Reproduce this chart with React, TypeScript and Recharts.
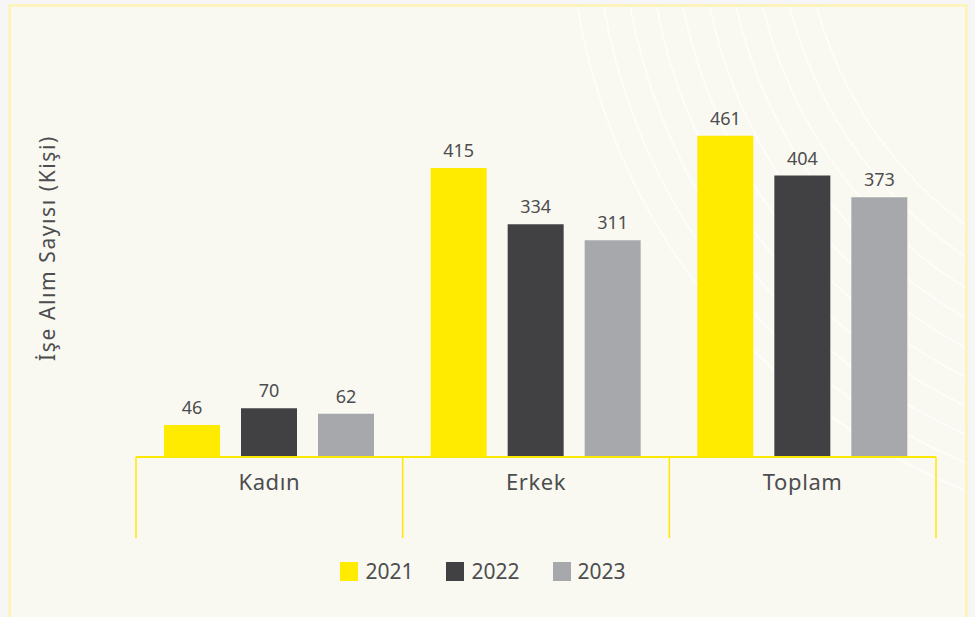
import { BarChart, Bar, XAxis, YAxis, LabelList, Label } from "recharts";

const categories = ["Kadın", "Erkek", "Toplam"];
const years = ["2021", "2022", "2023"];
const values2021 = [46, 415, 461];
const values2022 = [70, 334, 404];
const values2023 = [62, 311, 373];
const colors = ["#ffeb00", "#414143", "#a7a8ab"];

const data = categories.map((name, i) => ({
  name,
  y2021: values2021[i],
  y2022: values2022[i],
  y2023: values2023[i],
}));

const font = "'Noto Sans', sans-serif";
const textColor = "#4d4d4f";
const axisYellow = "#ffe800";
const plotWidth = 800;
const band = plotWidth / categories.length;

function CategoryTick(props: any) {
  const { x, y, payload, index } = props;
  const left = x - band / 2;
  const right = x + band / 2;
  return (
    <g>
      <line x1={left} x2={left} y1={y} y2={y + 81} stroke={axisYellow} strokeWidth={1.5} />
      {index === categories.length - 1 && (
        <line x1={right} x2={right} y1={y} y2={y + 81} stroke={axisYellow} strokeWidth={1.5} />
      )}
      <text x={x} y={y + 33} textAnchor="middle" fill={textColor} fontSize={22} fontFamily={font} letterSpacing={0.6}>
        {payload.value}
      </text>
    </g>
  );
}

function YTitle(props: any) {
  const vb = props.viewBox || {};
  const cy = (vb.y ?? 39) + (vb.height ?? 418) / 2;
  return (
    <text
      transform={`translate(55, ${cy}) rotate(-90)`}
      textAnchor="middle"
      fill={textColor}
      fontSize={21}
      fontFamily={font}
      letterSpacing={1.6}
    >
      İşe Alım Sayısı (Kişi)
    </text>
  );
}

function Arcs() {
  const radii = [400, 426, 452, 478, 504, 530, 556, 582, 608, 634];
  return (
    <svg width={960} height={640} style={{ position: "absolute", left: 0, top: 0 }}>
      {radii.map((r) => (
        <circle key={r} cx={1192} cy={-104} r={r} fill="none" stroke="#ffffff" strokeWidth={2} opacity={0.6} />
      ))}
    </svg>
  );
}

export default function App() {
  const keys = ["y2021", "y2022", "y2023"];
  return (
    <div style={{ position: "absolute", left: 0, top: 0, width: 975, height: 617, background: "#f6f6f6", overflow: "hidden" }}>
      <div
        style={{
          position: "absolute",
          left: 8,
          top: 4,
          width: 954,
          height: 640,
          background: "#f9f9f2",
          border: "3px solid #fdf3bf",
          overflow: "hidden",
        }}
      >
        <Arcs />
      </div>
      <div style={{ position: "absolute", left: 0, top: 0 }}>
        <BarChart
          width={975}
          height={617}
          data={data}
          margin={{ top: 39, right: 39, bottom: 0, left: 0 }}
          barSize={56}
          barGap={21}
        >
          <YAxis
            width={136}
            domain={[0, 600]}
            axisLine={false}
            tickLine={false}
            tick={false}
          >
            <Label content={<YTitle />} />
          </YAxis>
          <XAxis
            dataKey="name"
            height={160}
            interval={0}
            tickLine={false}
            tickSize={0}
            tickMargin={0}
            axisLine={{ stroke: axisYellow, strokeWidth: 2 }}
            tick={<CategoryTick />}
          />
          {keys.map((k, i) => (
            <Bar key={k} dataKey={k} name={years[i]} fill={colors[i]} isAnimationActive={false}>
              <LabelList
                dataKey={k}
                position="top"
                offset={11}
                fill={textColor}
                fontSize={18}
                fontFamily={font}
              />
            </Bar>
          ))}
        </BarChart>
      </div>
      <div
        style={{
          position: "absolute",
          top: 559,
          left: 0,
          width: 966,
          display: "flex",
          justifyContent: "center",
          gap: 33,
          fontFamily: font,
          fontSize: 21,
          color: textColor,
        }}
      >
        {years.map((y, i) => (
          <div key={y} style={{ display: "flex", alignItems: "center" }}>
            <span style={{ display: "inline-block", width: 18, height: 19, background: colors[i], marginRight: 7 }} />
            <span style={{ lineHeight: "24px" }}>{y}</span>
          </div>
        ))}
      </div>
    </div>
  );
}
